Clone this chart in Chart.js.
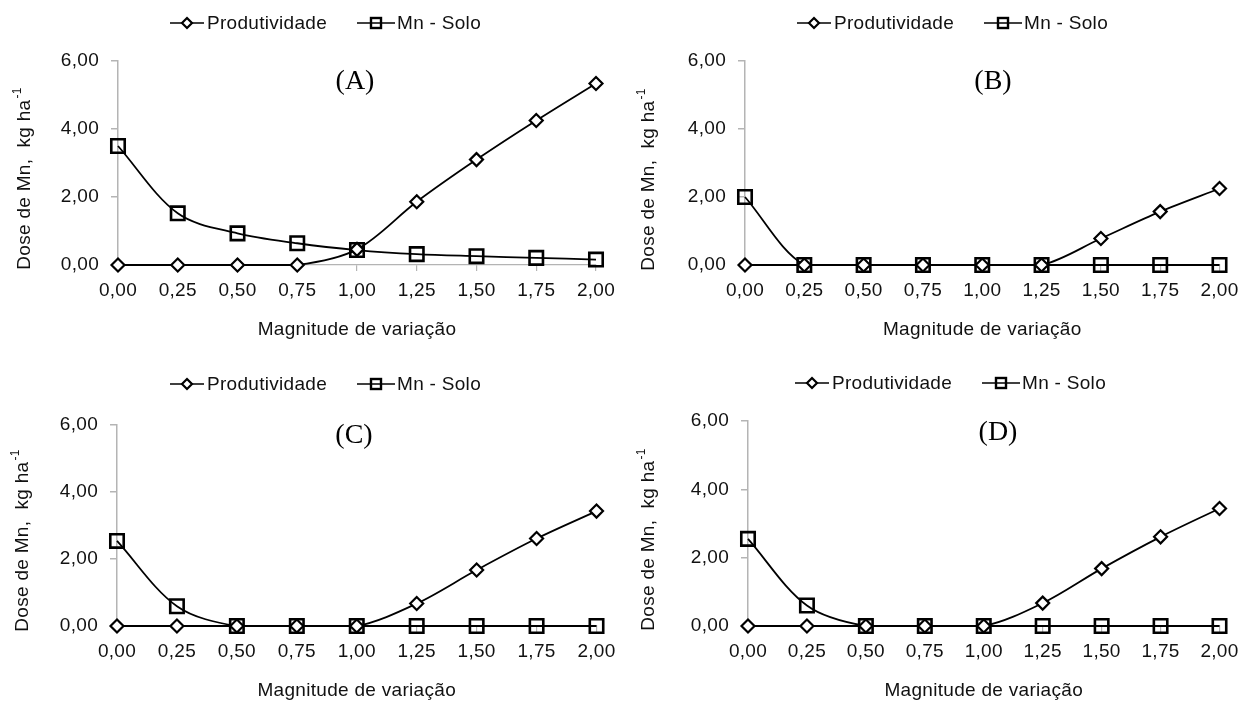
<!DOCTYPE html>
<html><head><meta charset="utf-8">
<script src="https://cdn.jsdelivr.net/npm/chart.js@4.4.1/dist/chart.umd.min.js"></script>
<style>
html,body{margin:0;padding:0;background:#fff;}
#wrap{position:relative;width:1246px;height:702px;overflow:hidden;}
.p{position:absolute;width:623px;height:351px;}
canvas{display:block;}
</style></head><body>
<div id="wrap">
<div class="p" style="left:0;top:0"><canvas id="cA" width="623" height="351"></canvas></div>
<div class="p" style="left:623px;top:0"><canvas id="cB" width="623" height="351"></canvas></div>
<div class="p" style="left:0;top:351px"><canvas id="cC" width="623" height="351"></canvas></div>
<div class="p" style="left:623px;top:351px"><canvas id="cD" width="623" height="351"></canvas></div>
</div>
<script>
// ---------- data ----------
const categories = ['0,00','0,25','0,50','0,75','1,00','1,25','1,50','1,75','2,00'];
const yTickValues = [0, 2, 4, 6];
const seriesNames = ['Produtividade', 'Mn - Solo'];
const panelLabels = ['(A)', '(B)', '(C)', '(D)'];
const xTitleText = 'Magnitude de variação';
const yTitleMain = 'Dose de Mn,  kg ha';
const yTitleSup = '-1';

const prodA = [0, 0, 0, 0, 0.46, 1.86, 3.10, 4.25, 5.34];
const soloA = [3.50, 1.52, 0.93, 0.64, 0.44, 0.32, 0.26, 0.21, 0.16];
const prodB = [0, 0, 0, 0, 0, 0, 0.78, 1.57, 2.25];
const soloB = [2.00, 0, 0, 0, 0, 0, 0, 0, 0];
const prodC = [0, 0, 0, 0, 0, 0.67, 1.67, 2.61, 3.43];
const soloC = [2.54, 0.59, 0, 0, 0, 0, 0, 0, 0];
const prodD = [0, 0, 0, 0, 0, 0.67, 1.68, 2.61, 3.44];
const soloD = [2.55, 0.60, 0, 0, 0, 0, 0, 0, 0];

// ---------- layout (per panel, canvas-relative) ----------
const geo = [
  {left:118,right:596,top:61,bottom:265,yTX:24,yTY:179,lX:355,lY:82,legY:23,legX:170,xTY:330},
  {left:122,right:603,top:61,bottom:265,yTX:25,yTY:180,lX:370,lY:82,legY:23,legX:174,xTY:330},
  {left:117,right:597,top:74,bottom:275,yTX:22,yTY:190,lX:354,lY:85,legY:33,legX:170,xTY:340},
  {left:125,right:602,top:70,bottom:275,yTX:25,yTY:189,lX:375,lY:82,legY:32,legX:172,xTY:340}
];
const SANS = '"Liberation Sans", Arial, sans-serif';
const SERIF = '"Liberation Serif", "Times New Roman", serif';
const TXT = '#111';
const AX = '#b4b4b4';
const LS = '0.3px';
const FS = 19;
const fmt = v => Number(v).toFixed(2).replace('.', ',');

function diamond(ctx, x, y, r, lw){
  ctx.beginPath();
  ctx.moveTo(x, y - r); ctx.lineTo(x + r, y); ctx.lineTo(x, y + r); ctx.lineTo(x - r, y); ctx.closePath();
  ctx.fillStyle = '#fff'; ctx.fill();
  ctx.lineWidth = lw; ctx.strokeStyle = '#000'; ctx.stroke();
}

const decor = {
  id: 'decor',
  beforeDraw(chart){ chart.ctx.letterSpacing = LS; },
  afterDraw(chart, args, opts){
    const g = opts.g, ctx = chart.ctx;
    ctx.save();
    ctx.letterSpacing = LS;
    // legend
    const y = g.legY;
    ctx.strokeStyle = '#000'; ctx.lineWidth = 1.6;
    ctx.beginPath(); ctx.moveTo(g.legX, y); ctx.lineTo(g.legX + 34, y); ctx.stroke();
    diamond(ctx, g.legX + 17, y, 5, 2.2);
    ctx.fillStyle = TXT; ctx.font = FS + 'px ' + SANS; ctx.textBaseline = 'middle'; ctx.textAlign = 'left';
    ctx.fillText(seriesNames[0], g.legX + 37, y + 1);
    const x2 = g.legX + 187;
    ctx.strokeStyle = '#000'; ctx.lineWidth = 1.6;
    ctx.beginPath(); ctx.moveTo(x2, y); ctx.lineTo(x2 + 38, y); ctx.stroke();
    ctx.lineWidth = 2.4; ctx.strokeRect(x2 + 14, y - 5, 10, 10);
    ctx.fillStyle = TXT;
    ctx.fillText(seriesNames[1], x2 + 40, y + 1);
    // panel label
    ctx.letterSpacing = '0px';
    ctx.font = '28px ' + SERIF; ctx.textAlign = 'center'; ctx.fillStyle = '#000';
    ctx.fillText(opts.label, g.lX, g.lY);
    // y title
    ctx.letterSpacing = LS;
    ctx.translate(g.yTX, g.yTY);
    ctx.rotate(-Math.PI / 2);
    ctx.font = FS + 'px ' + SANS;
    const w1 = ctx.measureText(yTitleMain).width;
    ctx.font = '12px ' + SANS;
    const w2 = ctx.measureText(yTitleSup).width;
    const start = -(w1 + w2) / 2;
    ctx.textAlign = 'left'; ctx.fillStyle = TXT;
    ctx.font = FS + 'px ' + SANS;
    ctx.fillText(yTitleMain, start, 1);
    ctx.font = '12px ' + SANS;
    ctx.fillText(yTitleSup, start + w1 + 1, -6);
    ctx.restore();
  }
};

function makeChart(id, prod, solo, g, label){
  const ctx = document.getElementById(id).getContext('2d');
  const xBottom = g.xTY + FS * 0.6;
  return new Chart(ctx, {
    type: 'line',
    data: {
      labels: categories,
      datasets: [
        { label: seriesNames[1], data: solo, borderColor: '#000', borderWidth: 1.8,
          pointStyle: 'rect', pointRadius: 9.5, pointHoverRadius: 9.5,
          pointBackgroundColor: 'rgba(255,255,255,0)', pointBorderColor: '#000', pointBorderWidth: 2.6,
          tension: 0.33, fill: false, order: 2, clip: false },
        { label: seriesNames[0], data: prod, borderColor: '#000', borderWidth: 1.8,
          pointStyle: 'rectRot', pointRadius: 6.5, pointHoverRadius: 6.5,
          pointBackgroundColor: '#fff', pointBorderColor: '#000', pointBorderWidth: 2.2,
          tension: 0.33, fill: false, order: 1, clip: false }
      ]
    },
    options: {
      responsive: false, animation: false, devicePixelRatio: 1,
      layout: { padding: { left: 0, right: 623 - g.right, top: g.top, bottom: 351 - xBottom } },
      plugins: { legend: { display: false }, tooltip: { enabled: false }, decor: { g: g, label: label } },
      scales: {
        x: {
          type: 'category', offset: false,
          ticks: { color: TXT, font: { size: FS, family: SANS }, padding: 8, maxRotation: 0, autoSkip: false },
          grid: { drawOnChartArea: false, drawTicks: true, tickLength: 6, color: AX, lineWidth: 1.2 },
          border: { display: true, color: AX, width: 1.2 },
          title: { display: true, text: xTitleText, color: TXT, font: { size: FS, family: SANS, lineHeight: 1.2 }, padding: 0 },
          afterFit: s => { s.height = xBottom - g.bottom; }
        },
        y: {
          min: 0, max: 6,
          afterBuildTicks: s => { s.ticks = yTickValues.map(v => ({ value: v })); },
          ticks: { color: TXT, font: { size: FS, family: SANS }, padding: 12, callback: v => fmt(v) },
          grid: { drawOnChartArea: false, drawTicks: true, tickLength: 7, color: AX, lineWidth: 1.5 },
          border: { display: true, color: AX, width: 1.5 },
          afterFit: s => { s.width = g.left; }
        }
      }
    },
    plugins: [decor]
  });
}

makeChart('cA', prodA, soloA, geo[0], panelLabels[0]);
makeChart('cB', prodB, soloB, geo[1], panelLabels[1]);
makeChart('cC', prodC, soloC, geo[2], panelLabels[2]);
makeChart('cD', prodD, soloD, geo[3], panelLabels[3]);
</script>
</body></html>
